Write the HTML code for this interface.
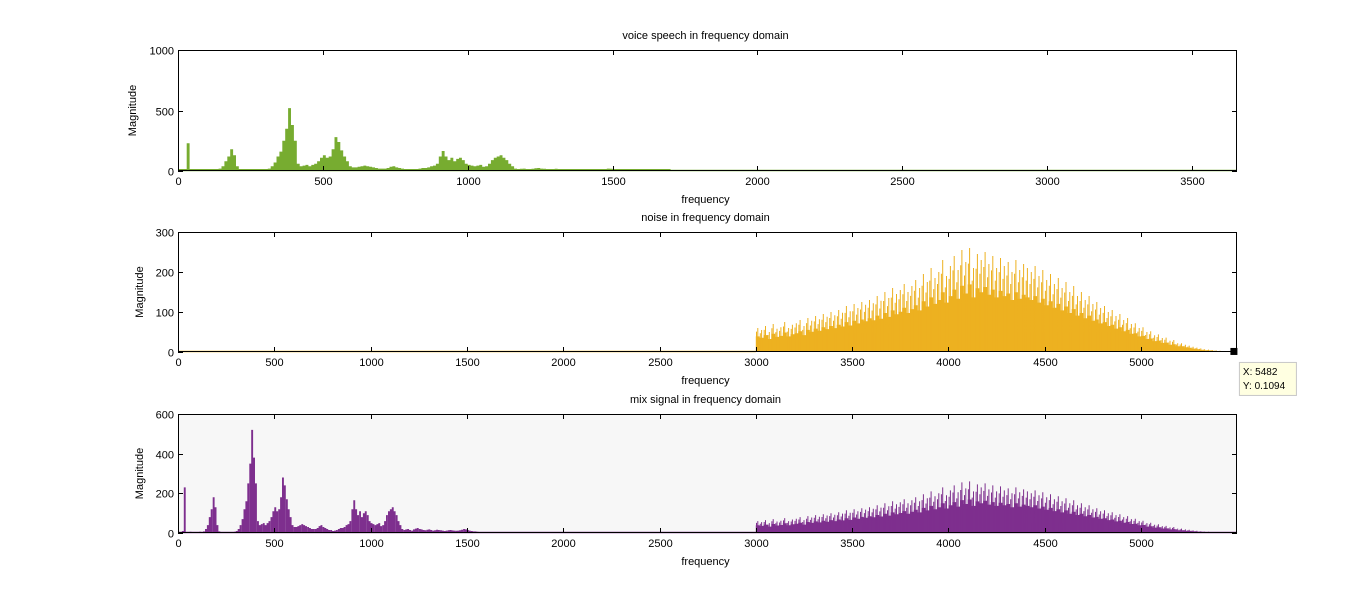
<!DOCTYPE html>
<html><head><meta charset="utf-8"><style>
body{margin:0;background:#fff;width:1366px;height:605px;overflow:hidden;font-family:"Liberation Sans",sans-serif}
svg text{font-family:"Liberation Sans",sans-serif;font-size:11px;fill:#000}
</style></head><body>
<svg id="fig" width="1366" height="605" xmlns="http://www.w3.org/2000/svg"></svg>
<script>
// voice spectrum, 10 Hz bins starting at 0 Hz
const voiceStart = 0, voiceStep = 10;
const voiceValues = [5,5,10,230,5,5,6,5,4,5,5,6,5,8,20,40,80,120,180,130,40,8,5,4,5,4,4,5,5,6,
10,20,40,70,120,160,250,350,520,380,250,60,40,45,50,40,50,60,80,110,
130,110,120,180,280,240,170,120,80,40,30,30,35,40,45,40,35,30,25,20,
20,20,25,35,40,30,25,20,15,15,10,12,15,20,25,25,30,40,45,60,
120,165,120,90,110,80,100,110,90,60,50,45,40,45,50,35,40,60,90,110,
120,130,110,90,60,40,20,15,18,20,15,12,18,22,25,20,18,15,14,16,
18,15,12,14,16,15,14,12,10,12,14,15,13,12,11,12,14,16,20,18,
15,12,10,8,8,6,5,4,4,3,3];
// noise spectrum, 20 Hz bins starting at 3000 Hz
const noiseStart = 3000, noiseStep = 20;
const noiseValues = [60,55,65,50,70,58,62,75,60,68,
72,80,65,85,78,90,82,95,88,100,
92,105,98,115,102,120,110,125,118,130,
122,140,128,150,135,160,145,155,170,150,
165,180,160,195,175,210,185,200,230,190,
215,240,205,255,225,260,210,245,230,250,
220,240,210,235,215,225,200,230,205,220,
210,200,215,190,205,180,195,170,185,160,
175,150,165,140,150,130,140,120,125,110,
115,100,105,90,95,80,85,70,72,60,
62,50,52,42,44,35,36,28,30,22,
22,18,16,13,11,9,7,6,5,4,
3,2,2,1,0.5,0.3];
const xTicks1 = [0,500,1000,1500,2000,2500,3000,3500];
const xTicks2 = [0,500,1000,1500,2000,2500,3000,3500,4000,4500,5000];
const yTicks1 = [0,500,1000], yTicks2 = [0,100,200,300], yTicks3 = [0,200,400,600];
const tipX = 5482, tipY = 0.1094;

const NS="http://www.w3.org/2000/svg", svg=document.getElementById('fig');
function el(t,a,p){const e=document.createElementNS(NS,t);for(const k in a)e.setAttribute(k,a[k]);(p||svg).appendChild(e);return e;}
const panels=[
 {name:'voice',title:'voice speech in frequency domain',top:50,bot:171,xmax:3655,ymax:1000,xt:xTicks1,yt:yTicks1,bg:'#fff',yl:132},
 {name:'noise',title:'noise in frequency domain',top:232,bot:352,xmax:5498,ymax:300,xt:xTicks2,yt:yTicks2,bg:'#fff',yl:139},
 {name:'mix',title:'mix signal in frequency domain',top:414,bot:533,xmax:5498,ymax:600,xt:xTicks2,yt:yTicks3,bg:'#f7f7f7',yl:139}];
const L=178,R=1237;
panels.forEach(p=>{
 const g=el('g',{});
 
 
 const sx=v=>L+v/p.xmax*(R-L), sy=v=>p.bot-v/p.ymax*(p.bot-p.top);
 const bg=el('rect',{x:L,y:p.top,width:R-L,height:p.bot-p.top,fill:p.bg},g);
 
 
 const marks=el('g',{},g);
 
 
 function bars(vals,start,step,col,xlim,spiky){
  let d='',ln='';
  vals.forEach((v,i)=>{const f=start+i*step; if(f>xlim)return; const w=Math.max(step/p.xmax*(R-L),1);
   const fillTop = spiky ? v*0.65 : v;
   d+=`M${(sx(f)).toFixed(1)} ${p.bot}h${w.toFixed(1)}V${sy(Math.min(fillTop,p.ymax)).toFixed(1)}h${(-w).toFixed(1)}Z`;
   if(spiky){const xm=sx(f)+w/2; ln+=`M${xm.toFixed(1)} ${p.bot}V${sy(v).toFixed(1)}M${(xm-w/3).toFixed(1)} ${p.bot}V${sy(v*0.85).toFixed(1)}`;}
  });
  el('path',{d:d,fill:col},marks);
  if(spiky) el('path',{d:ln,stroke:col,'stroke-width':1,fill:'none'},marks);
 }
 if(p.name==='voice'){el('rect',{x:L,y:p.bot-2,width:sx(1700)-L,height:2,fill:'#77ac30'},marks);bars(voiceValues,voiceStart,voiceStep,'#77ac30',p.xmax,false);el('line',{x1:L,x2:R,y1:p.bot-0.5,y2:p.bot-0.5,stroke:'#77ac30','stroke-width':1.5},marks);}
 if(p.name==='noise'){el('line',{x1:L,x2:sx(noiseStart),y1:p.bot-0.5,y2:p.bot-0.5,stroke:'#edb120','stroke-width':1.5},marks);bars(noiseValues,noiseStart,noiseStep,'#edb120',p.xmax,true);}
 if(p.name==='mix'){el('line',{x1:L,x2:R,y1:p.bot-0.5,y2:p.bot-0.5,stroke:'#7e2f8e','stroke-width':1.5},marks);bars(voiceValues,voiceStart,voiceStep,'#7e2f8e',p.xmax,false);bars(noiseValues,noiseStart,noiseStep,'#7e2f8e',p.xmax,true);}
 const box=el('rect',{x:L+0.5,y:p.top+0.5,width:R-L-1,height:p.bot-p.top-1,fill:'none',stroke:'#000'},g);
 
 
 p.xt.forEach(t=>{const x=Math.round(sx(t))+0.5;
  el('line',{x1:x,x2:x,y1:p.bot,y2:p.bot-5,stroke:'#000'},g);el('line',{x1:x,x2:x,y1:p.top,y2:p.top+5,stroke:'#000'},g);
  const tx=el('text',{x:x,y:p.bot+14,'text-anchor':'middle'},g);tx.textContent=t;
  
  });
 p.yt.forEach(t=>{const y=Math.round(sy(t))+0.5;
  el('line',{x1:L,x2:L+5,y1:y,y2:y,stroke:'#000'},g);el('line',{x1:R,x2:R-5,y1:y,y2:y,stroke:'#000'},g);
  const tx=el('text',{x:L-4,y:y+4,'text-anchor':'end'},g);tx.textContent=t;
  
  });
 const ti=el('text',{x:(L+R)/2-2,y:p.top-11,'text-anchor':'middle'},g);ti.textContent=p.title;
 
 
 const xl=el('text',{x:(L+R)/2-2,y:p.bot+32,'text-anchor':'middle'},g);xl.textContent='frequency';
 
 
 const cy=(p.top+p.bot)/2;
 const yl=el('text',{x:cy,y:0,'text-anchor':'middle',transform:`translate(${p.yl+4} 0) rotate(-90 0 0) translate(${-2*cy} 0)`},g);
 yl.setAttribute('x',cy);
 yl.setAttribute('transform',`rotate(-90 ${p.yl+4} ${cy}) translate(${p.yl+4-cy} ${cy})`);
 yl.textContent='Magnitude';
 
 
 p.sx=sx;p.sy=sy;
});
// data tip on noise plot
const np=panels[1];
const mx=np.sx(tipX), my=np.sy(tipY);
const mk=el('rect',{x:mx-3.5,y:my-4,width:7,height:7,fill:'#000'});


const tip=el('g',{});


el('rect',{x:mx+5.5,y:my+10.5,width:57,height:33,fill:'#ffffe1',stroke:'#c8c8c8'},tip);
const t1=el('text',{x:mx+9,y:my+23,style:'font-size:10px'},tip);t1.textContent='X: '+tipX;
const t2=el('text',{x:mx+9,y:my+37,style:'font-size:10px'},tip);t2.textContent='Y: '+tipY;
</script>
</body></html>
